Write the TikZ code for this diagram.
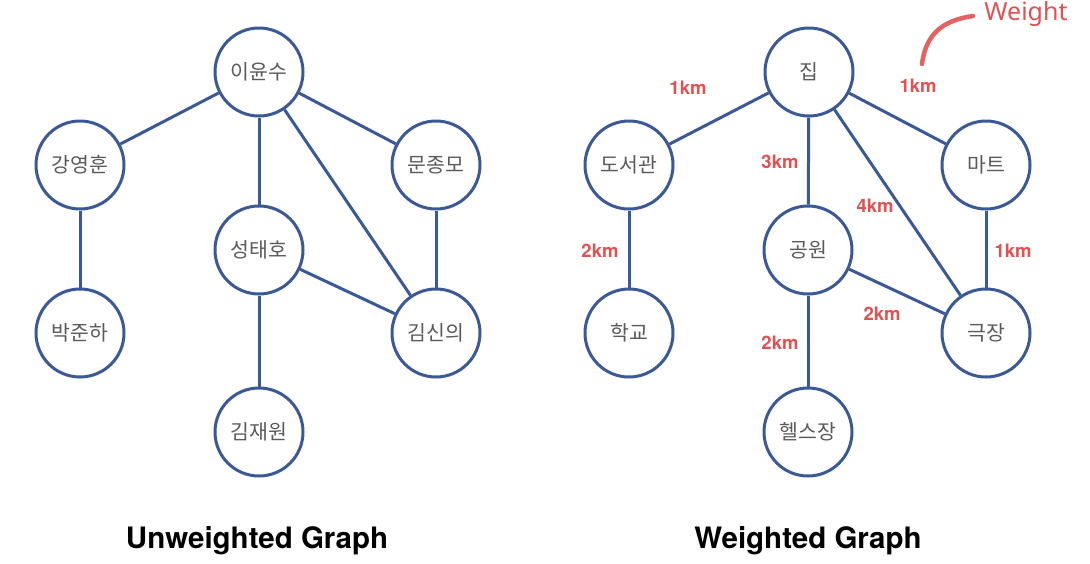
\documentclass[tikz,border=0pt]{standalone}
\usepackage{fontspec}
\setmainfont{TeX Gyre Heros}
\newfontfamily\kofont{Noto Sans CJK KR}
\newfontfamily\notofont{Noto Sans}
\definecolor{nodeblue}{RGB}{59,89,150}
\definecolor{wred}{RGB}{224,82,82}
\definecolor{txtgray}{RGB}{90,90,90}
\tikzset{
  vtx/.style={circle, draw=nodeblue, line width=3pt, fill=white, minimum size=88pt, inner sep=0pt, font=\kofont\fontsize{20.5}{22}\selectfont, text=txtgray},
  edge/.style={draw=nodeblue, line width=3pt},
  wlab/.style={font=\bfseries\fontsize{18.5}{20}\selectfont, text=wred},
  ttl/.style={font=\bfseries\fontsize{29.5}{32}\selectfont, text=black}
}
\begin{document}
\begin{tikzpicture}[x=1pt,y=-1pt]
\useasboundingbox[fill=white] (0,0) rectangle (1090,563);
% left graph
\node[vtx] (a1) at (259,72) {이윤수};
\node[vtx] (a2) at (80,165) {강영훈};
\node[vtx] (a3) at (436,165) {문종모};
\node[vtx] (a4) at (259,250) {성태호};
\node[vtx] (a5) at (80,333) {박준하};
\node[vtx] (a6) at (436,333) {김신의};
\node[vtx] (a7) at (259,432) {김재원};
\draw[edge] (a1) -- (a2);
\draw[edge] (a1) -- (a4);
\draw[edge] (a1) -- (a6);
\draw[edge] (a1) -- (a3);
\draw[edge] (a2) -- (a5);
\draw[edge] (a3) -- (a6);
\draw[edge] (a4) -- (a6);
\draw[edge] (a4) -- (a7);
% right graph
\node[vtx] (b1) at (809,72) {집};
\node[vtx] (b2) at (629,165) {도서관};
\node[vtx] (b3) at (986,165) {마트};
\node[vtx] (b4) at (808,250) {공원};
\node[vtx] (b5) at (629,333) {학교};
\node[vtx] (b6) at (986,333) {극장};
\node[vtx] (b7) at (808,432) {헬스장};
\draw[edge] (b1) -- (b2);
\draw[edge] (b1) -- (b4);
\draw[edge] (b1) -- (b6);
\draw[edge] (b1) -- (b3);
\draw[edge] (b2) -- (b5);
\draw[edge] (b3) -- (b6);
\draw[edge] (b4) -- (b6);
\draw[edge] (b4) -- (b7);
% weights
\node[wlab] (w1) at (688,88) {1km};
\node[wlab] (w2) at (918,86) {1km};
\node[wlab] (w3) at (780,162) {3km};
\node[wlab] (w4) at (875,206) {4km};
\node[wlab] (w5) at (600,251) {2km};
\node[wlab] (w6) at (1013,251) {1km};
\node[wlab] (w7) at (882,314) {2km};
\node[wlab] (w8) at (780,343) {2km};
% weight annotation
\node[font=\notofont\fontsize{25}{27}\selectfont, text=wred] (wt) at (1026,14) {Weight};
\coordinate (cs) at (922,64);
\coordinate (ce) at (973,16);
\draw[wred!90, line width=4.5pt, line cap=round] (cs) .. controls (926,32) and (945,20) .. (ce);
% titles
\node[ttl] (t1) at (257,541) {Unweighted Graph};
\node[ttl] (t2) at (808,541) {Weighted Graph};
\end{tikzpicture}
\end{document}
